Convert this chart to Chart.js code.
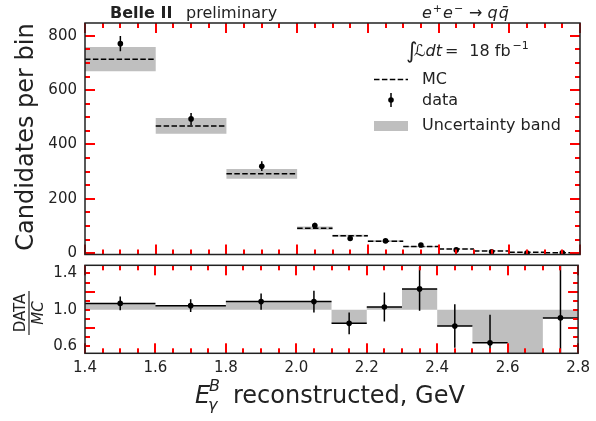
<!DOCTYPE html>
<html>
<head>
<meta charset="utf-8">
<script src="https://cdn.jsdelivr.net/npm/chart.js@4.4.1/dist/chart.umd.min.js"></script>
<style>
  html, body { margin: 0; padding: 0; background: #fff; }
  #wrap { position: relative; width: 596px; height: 421px; }
  #wrap canvas { position: absolute; left: 0; top: 0; }
</style>
</head>
<body>
<div id="wrap">
  <canvas id="mainChart" width="596" height="421"></canvas>
  <canvas id="ratioChart" width="596" height="421"></canvas>
</div>
<script>
// bins in reconstructed photon energy (GeV)
const binLo = [1.4, 1.6, 1.8, 2.0, 2.1, 2.2, 2.3, 2.4, 2.5, 2.6, 2.7];
const binHi = [1.6, 1.8, 2.0, 2.1, 2.2, 2.3, 2.4, 2.5, 2.6, 2.7, 2.8];

// candidates per bin
const mcCounts   = [714, 468, 292, 92, 64, 44, 24, 15, 8, 3, 1.1];
const mcUnc      = [45, 29, 18, 6, 4, 3, 2, 1, 0.5, 0.2, 0.1];
const dataCounts = [771, 494, 320, 102, 54, 45, 30, 12, 5, 0, 1];
const dataErr    = [28, 22, 18, 10, 7, 7, 5, 3.5, 2.2, 0, 1];

// DATA / MC
const ratio    = [1.07, 1.045, 1.09, 1.09, 0.85, 1.03, 1.23, 0.82, 0.635, 0, 0.91];
const ratioErr = [0.075, 0.07, 0.09, 0.12, 0.12, 0.16, 0.24, 0.24, 0.31, 0, 0.9];
const ratioRef = 1.0;

// tick labels
const xTicks = [1.4, 1.6, 1.8, 2.0, 2.2, 2.4, 2.6, 2.8];
const countTicks = [0, 200, 400, 600, 800];
const ratioTicks = [0.6, 1.0, 1.4];

const grey = '#bfbfbf';
const ink = '#222';
const FONT = 'DejaVu Sans';

const centers = binLo.map((lo, i) => (lo + binHi[i]) / 2);

function stepPoints(vals) {
    const pts = [];
    vals.forEach((v, i) => {
        pts.push({x: binLo[i], y: v}, {x: binHi[i], y: v});
    });
    return pts;
}

function segPoints(vals) {
    const pts = [];
    vals.forEach((v, i) => {
        pts.push({x: binLo[i], y: v}, {x: binHi[i], y: v}, {x: binHi[i], y: null});
    });
    return pts;
}

// vertical error bars for datasets carrying an "errors" array
const errorBars = {
    id: 'errorBars',
    afterDatasetsDraw(chart) {
        const {ctx, chartArea, scales} = chart;
        ctx.save();
        ctx.beginPath();
        ctx.rect(chartArea.left, chartArea.top, chartArea.right - chartArea.left, chartArea.bottom - chartArea.top);
        ctx.clip();
        ctx.strokeStyle = '#000';
        ctx.lineWidth = 1.5;
        chart.data.datasets.forEach(ds => {
            if (!ds.errors) return;
            ds.data.forEach((p, j) => {
                const e = ds.errors[j];
                if (!e) return;
                const x = scales.x.getPixelForValue(p.x);
                ctx.beginPath();
                ctx.moveTo(x, scales.y.getPixelForValue(p.y - e));
                ctx.lineTo(x, scales.y.getPixelForValue(p.y + e));
                ctx.stroke();
            });
        });
        ctx.restore();
    }
};

// box frame with inward major and minor ticks on all four sides
function makeFrame(id, xMinor, xMajor, yMinor, yMajor) {
    return {
        id: id,
        afterDraw(chart) {
            const {ctx, chartArea: a, scales} = chart;
            ctx.save();
            ctx.fillStyle = 'red';
            const tick = (scale, step, len, isX) => {
                const start = Math.ceil(scale.min / step - 1e-6);
                const end = Math.floor(scale.max / step + 1e-6);
                for (let k = start; k <= end; k++) {
                    const p = Math.round(scale.getPixelForValue(k * step));
                    if (isX) {
                        ctx.fillRect(p - 1, a.bottom - len, 2, len);
                        ctx.fillRect(p - 1, a.top, 2, len);
                    } else {
                        ctx.fillRect(a.left, p - 1, len, 2);
                        ctx.fillRect(a.right - len, p - 1, len, 2);
                    }
                }
            };
            tick(scales.x, xMinor, 5, true);
            tick(scales.x, xMajor, 10, true);
            tick(scales.y, yMinor, 5, false);
            tick(scales.y, yMajor, 10, false);
            ctx.strokeStyle = ink;
            ctx.lineWidth = 1.5;
            ctx.strokeRect(a.left, a.top, a.right - a.left, a.bottom - a.top);
            ctx.restore();
        }
    };
}

// run of text pieces: [text, font, dx, dy]
function drawPieces(ctx, x, y, pieces) {
    pieces.forEach(([t, f, dx, dy]) => {
        ctx.font = f;
        x += dx || 0;
        ctx.fillText(t, x, y + (dy || 0));
        x += ctx.measureText(t).width;
    });
}

const labels = {
    id: 'mainLabels',
    afterDraw(chart) {
        const ctx = chart.ctx;
        ctx.save();
        ctx.fillStyle = ink;
        ctx.textBaseline = 'alphabetic';
        ctx.textAlign = 'left';

        // header
        ctx.font = `bold 16px ${FONT}`;
        ctx.fillText('Belle II', 110, 18);
        ctx.font = `16px ${FONT}`;
        ctx.fillText('preliminary', 186, 18);
        drawPieces(ctx, 422, 18, [
            ['e', `italic 16px ${FONT}`],
            ['+', `11px ${FONT}`, 1, -6],
            ['e', `italic 16px ${FONT}`, 1],
            ['\u2212', `11px ${FONT}`, 1, -6],
            ['\u2192', `16px ${FONT}`, 6],
            ['q', `italic 16px ${FONT}`, 5],
            ['q\u0304', `italic 16px ${FONT}`, 1]
        ]);

        // luminosity + legend
        ctx.font = `22px ${FONT}`;
        ctx.fillText('\u222B', 406, 58);
        drawPieces(ctx, 414, 56, [
            ['\u2112', `italic 16px ${FONT}`],
            ['dt', `italic 16px ${FONT}`],
            ['=', `16px ${FONT}`, 3],
            ['18 fb', `16px ${FONT}`, 11],
            ['\u22121', `11px ${FONT}`, 2, -7]
        ]);

        ctx.font = `16px ${FONT}`;
        ctx.textBaseline = 'middle';
        ctx.fillText('MC', 422, 80);
        ctx.fillText('data', 422, 101);
        ctx.fillText('Uncertainty band', 422, 126);

        ctx.strokeStyle = '#000';
        ctx.lineWidth = 1.5;
        ctx.setLineDash([5.5, 2.4]);
        ctx.beginPath(); ctx.moveTo(374, 79.5); ctx.lineTo(408, 79.5); ctx.stroke();
        ctx.setLineDash([]);
        ctx.beginPath(); ctx.moveTo(391, 93); ctx.lineTo(391, 107); ctx.stroke();
        ctx.fillStyle = '#000';
        ctx.beginPath(); ctx.arc(391, 100, 2.8, 0, Math.PI * 2); ctx.fill();
        ctx.fillStyle = grey;
        ctx.fillRect(374, 121, 34, 10);

        // y title
        ctx.fillStyle = ink;
        ctx.save();
        ctx.translate(33, 137);
        ctx.rotate(-Math.PI / 2);
        ctx.textAlign = 'center';
        ctx.textBaseline = 'alphabetic';
        ctx.font = `24px ${FONT}`;
        ctx.fillText('Candidates per bin', 0, 0);
        ctx.restore();
        ctx.restore();
    }
};

const ratioLabels = {
    id: 'ratioLabels',
    afterDraw(chart) {
        const ctx = chart.ctx;
        ctx.save();
        ctx.fillStyle = ink;
        ctx.strokeStyle = ink;

        // DATA / MC fraction
        ctx.save();
        ctx.translate(0, 313);
        ctx.rotate(-Math.PI / 2);
        ctx.textAlign = 'center';
        ctx.textBaseline = 'alphabetic';
        ctx.font = `15px ${FONT}`;
        ctx.fillText('DATA', 0, 25);
        ctx.font = `italic 15px ${FONT}`;
        ctx.fillText('MC', 0, 43);
        ctx.restore();
        ctx.lineWidth = 1.2;
        ctx.beginPath(); ctx.moveTo(29, 291); ctx.lineTo(29, 335); ctx.stroke();

        // x title
        ctx.textAlign = 'left';
        ctx.textBaseline = 'alphabetic';
        ctx.font = `italic 24px ${FONT}`;
        ctx.fillText('E', 195, 403);
        ctx.font = `italic 16px ${FONT}`;
        ctx.fillText('B', 209, 391);
        ctx.fillText('\u03B3', 208, 410);
        ctx.font = `24px ${FONT}`;
        ctx.fillText('reconstructed, GeV', 233, 403);
        ctx.restore();
    }
};

const baseScaleX = {
    type: 'linear',
    min: 1.4,
    max: 2.8,
    grid: {display: false, drawTicks: false},
    border: {display: false},
    afterBuildTicks(scale) { scale.ticks = xTicks.map(v => ({value: v})); }
};

// ======= Upper panel: candidates per bin =======
new Chart(document.getElementById('mainChart'), {
    type: 'line',
    data: {
        datasets: [
            {
                data: stepPoints(mcCounts.map((m, i) => m + mcUnc[i])),
                borderWidth: 0, borderColor: 'rgba(0,0,0,0)', pointRadius: 0,
                backgroundColor: grey, fill: '+1', order: 3
            },
            {
                data: stepPoints(mcCounts.map((m, i) => m - mcUnc[i])),
                borderWidth: 0, borderColor: 'rgba(0,0,0,0)', pointRadius: 0,
                fill: false, order: 3
            },
            {
                data: segPoints(mcCounts),
                borderColor: '#000', borderWidth: 1.5, borderDash: [5.5, 2.4],
                pointRadius: 0, spanGaps: false, fill: false, order: 2
            },
            {
                data: dataCounts.map((v, i) => ({x: centers[i], y: v})),
                errors: dataErr,
                showLine: false, pointRadius: 2.8, pointBackgroundColor: '#000',
                pointBorderWidth: 0, fill: false, order: 1
            }
        ]
    },
    options: {
        responsive: false,
        animation: false,
        devicePixelRatio: 1,
        events: [],
        layout: {padding: {left: 0, top: 23, right: 16, bottom: 166.5}},
        plugins: {
            legend: {display: false},
            tooltip: {enabled: false}
        },
        scales: {
            x: Object.assign({}, baseScaleX, {display: false}),
            y: {
                min: -5,
                max: 847,
                grid: {display: false, drawTicks: false},
                border: {display: false},
                afterBuildTicks(scale) { scale.ticks = countTicks.map(v => ({value: v})); },
                afterFit(scale) { scale.width = 85; },
                ticks: {color: ink, padding: 8, font: {family: FONT, size: 15}}
            }
        }
    },
    plugins: [errorBars, makeFrame('mainFrame', 0.05, 0.2, 50, 200), labels]
});

// ======= Lower panel: DATA / MC =======
new Chart(document.getElementById('ratioChart'), {
    type: 'line',
    data: {
        datasets: [
            {
                data: stepPoints(ratio),
                borderWidth: 0, borderColor: 'rgba(0,0,0,0)', pointRadius: 0,
                backgroundColor: grey, fill: '+1', order: 3
            },
            {
                data: stepPoints(binLo.map(() => ratioRef)),
                borderWidth: 0, borderColor: 'rgba(0,0,0,0)', pointRadius: 0,
                fill: false, order: 3
            },
            {
                data: segPoints(ratio),
                borderColor: '#000', borderWidth: 1.5,
                pointRadius: 0, spanGaps: false, fill: false, order: 2
            },
            {
                data: ratio.map((v, i) => ({x: centers[i], y: v})),
                errors: ratioErr,
                showLine: false, pointRadius: 2.8, pointBackgroundColor: '#000',
                pointBorderWidth: 0, fill: false, order: 1
            }
        ]
    },
    options: {
        responsive: false,
        animation: false,
        devicePixelRatio: 1,
        events: [],
        layout: {padding: {left: 0, top: 265.3, right: 16, bottom: 0}},
        plugins: {
            legend: {display: false},
            tooltip: {enabled: false}
        },
        scales: {
            x: Object.assign({}, baseScaleX, {
                afterFit(scale) { scale.height = 67.7; },
                ticks: {
                    color: ink, padding: 6, maxRotation: 0, autoSkip: false,
                    font: {family: FONT, size: 15},
                    callback: v => v.toFixed(1)
                }
            }),
            y: {
                min: 0.52,
                max: 1.49,
                grid: {display: false, drawTicks: false},
                border: {display: false},
                afterBuildTicks(scale) { scale.ticks = ratioTicks.map(v => ({value: v})); },
                afterFit(scale) { scale.width = 85; },
                ticks: {
                    color: ink, padding: 8,
                    font: {family: FONT, size: 15},
                    callback: v => v.toFixed(1)
                }
            }
        }
    },
    plugins: [errorBars, makeFrame('ratioFrame', 0.05, 0.2, 0.1, 0.4), ratioLabels]
});
</script>
</body>
</html>
